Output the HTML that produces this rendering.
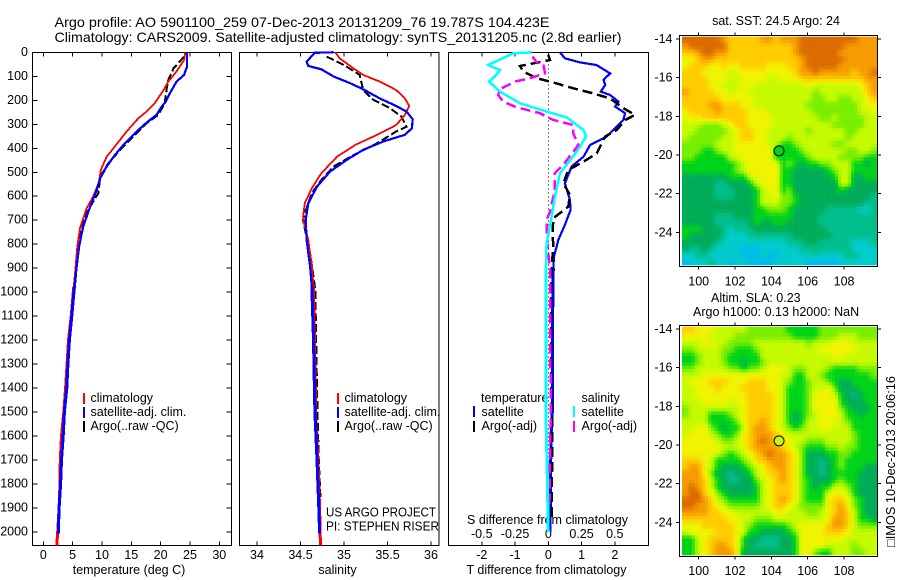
<!DOCTYPE html>
<html lang="en">
<head>
<meta charset="utf-8">
<title>Argo profile</title>
<style>
html,body{margin:0;padding:0;background:#fff;width:900px;height:580px;overflow:hidden}
svg{display:block}
text{font-family:"Liberation Sans",sans-serif;font-size:12.5px;fill:#000}
</style>
</head>
<body>
<svg id="chart" xmlns="http://www.w3.org/2000/svg" width="900" height="580" viewBox="0 0 900 580">
<text x="54.5" y="27" style="font-size:14px" textLength="495" lengthAdjust="spacingAndGlyphs">Argo profile: AO 5901100_259 07-Dec-2013 20131209_76 19.787S 104.423E</text>
<text x="54.5" y="42" style="font-size:14px" textLength="567" lengthAdjust="spacingAndGlyphs">Climatology: CARS2009. Satellite-adjusted climatology: synTS_20131205.nc (2.8d earlier)</text>
<text x="129" y="574" text-anchor="middle">temperature (deg C)</text>
<text x="337.5" y="574" text-anchor="middle">salinity</text>
<text x="546.5" y="574" text-anchor="middle">T difference from climatology</text>
<text x="547.5" y="524" text-anchor="middle">S difference from climatology</text>
<text x="90.5" y="402">climatology</text>
<text x="90.5" y="416">satellite-adj. clim.</text>
<text x="90.5" y="430">Argo(..raw -QC)</text>
<text x="344.5" y="402">climatology</text>
<text x="344.5" y="416">satellite-adj. clim.</text>
<text x="344.5" y="430">Argo(..raw -QC)</text>
<text x="326" y="516.5" textLength="110" lengthAdjust="spacingAndGlyphs">US ARGO PROJECT</text>
<text x="326" y="530.5" textLength="113" lengthAdjust="spacingAndGlyphs">PI: STEPHEN RISER</text>
<text x="481" y="402">temperature</text>
<text x="481.5" y="416">satellite</text>
<text x="481.5" y="430">Argo(-adj)</text>
<text x="581.5" y="402">salinity</text>
<text x="581.5" y="416">satellite</text>
<text x="581.5" y="430">Argo(-adj)</text>
<text x="776" y="25" text-anchor="middle">sat. SST: 24.5 Argo: 24</text>
<text x="711" y="302">Altim. SLA: 0.23</text>
<text x="693" y="316">Argo h1000: 0.13 h2000: NaN</text>
<text transform="translate(895,547) rotate(-90)" textLength="171" lengthAdjust="spacingAndGlyphs">&#9633;IMOS 10-Dec-2013 20:06:16</text>
</svg>
<script>
// ---------- profile data ----------
const tempClimDepth = [0,32,80,122,157,212,247,275,330,386,435,490,540,601,650,733,810,893,976,1100,1200,1300,1400,1500,1600,1700,1800,1900,2000,2055];
const tempClimValue = [24.2,24.0,22.7,21.3,20.5,19.0,17.6,16.2,14.2,12.4,10.8,9.8,9.5,8.5,7.4,6.25,5.8,5.5,5.2,4.75,4.3,4.05,3.8,3.5,3.1,2.9,2.85,2.7,2.45,2.3];
const tempSatDepth = [0,60,94,122,170,205,226,261,293,330,379,428,476,525,574,643,726,810,893,976,1100,1200,1300,1400,1500,1600,1700,1800,1900,2005];
const tempSatValue = [24.5,24.5,24.0,22.7,21.6,20.9,20.2,19.3,17.6,15.9,13.9,12.2,10.8,9.7,9.1,8.0,6.8,6.1,5.7,5.3,4.85,4.45,4.2,4.0,3.6,3.4,3.1,2.95,2.7,2.55];
const tempArgoDepth = [18,67,115,157,212,261,296,351,407,462,518,587,643,699,782,865,976,1100,1300,1500,1750];
const tempArgoValue = [24.0,22.2,21.3,21.0,20.7,19.6,17.6,15.3,13.1,11.1,9.7,9.4,8.0,6.8,6.25,5.8,5.4,4.8,4.1,3.5,3.1];

const salClimDepth = [0,25,67,94,122,157,192,224,261,303,344,386,435,504,567,629,685,726,782,893,976,1200,1400,1500,1700,1900,2000,2055];
const salClimValue = [34.9,34.95,35.11,35.22,35.41,35.6,35.70,35.75,35.70,35.6,35.38,35.13,34.92,34.74,34.63,34.55,34.53,34.55,34.59,34.63,34.65,34.66,34.67,34.67,34.70,34.72,34.725,34.73];
const salSatDepth = [0,2,8,39,57,71,101,129,154,192,224,247,279,317,344,372,407,449,497,560,629,699,782,893,976,1200,1400,1500,1700,1900,2005];
const salSatValue = [34.88,34.66,34.65,34.57,34.59,34.74,34.88,35.07,35.22,35.41,35.6,35.72,35.79,35.78,35.70,35.45,35.22,35.03,34.84,34.69,34.59,34.56,34.57,34.61,34.63,34.65,34.66,34.665,34.69,34.71,34.72];
const salArgoDepth = [18,53,94,157,199,233,268,310,330,379,428,476,532,587,671,699,754,838,935,990,1200,1400,1500,1700,1860];
const salArgoValue = [34.80,35.0,35.18,35.22,35.34,35.53,35.66,35.72,35.6,35.38,35.11,34.88,34.74,34.63,34.55,34.53,34.56,34.61,34.65,34.67,34.68,34.69,34.695,34.71,34.73];

const dtSatDepth = [0,25,42,53,88,115,136,164,178,206,226,254,282,317,351,386,435,476,546,615,657,719,782,851,900,1200,1500,1600,2000];
const dtSatValue = [0.35,0.5,0.95,1.45,1.86,1.66,1.71,1.58,1.86,2.11,2.01,2.31,2.26,2.01,1.76,1.26,1.06,0.70,0.50,0.65,0.67,0.50,0.30,0.17,0.15,0.12,0.12,0.08,0.05];
const dtArgoDepth = [11,32,39,57,81,108,126,150,168,192,233,261,282,324,351,421,456,490,546,594,643,692,754,810,900,1300,1600,1950];
const dtArgoValue = [0,0.05,-0.2,-0.85,-0.75,-0.35,0.15,0.75,1.26,1.86,2.26,2.61,2.31,2.06,1.71,1.46,1.06,0.6,0.45,0.65,0.6,0.15,0.13,0.15,0.1,0.08,0.12,0.1];
const dsSatDepth = [0,4,53,74,101,122,164,212,247,271,324,349,393,442,504,601,685,796,900,1500,1750,2000];
const dsSatValue = [-0.126,-0.264,-0.452,-0.364,-0.402,-0.445,-0.364,-0.214,-0.013,0.138,0.264,0.284,0.239,0.176,0.088,0.05,0.025,-0.013,-0.018,-0.018,-0.008,0];
const dsArgoDepth = [18,42,46,88,108,122,154,178,206,229,254,282,303,338,386,469,504,574,664,699,796,900,1500,1900];
const dsArgoValue = [-0.118,-0.088,-0.038,-0.025,-0.138,-0.251,-0.364,-0.377,-0.339,-0.239,-0.063,0.038,0.188,0.188,0.226,0.113,0.05,0.05,0.013,-0.013,-0.008,0.013,0.018,0.008];

// ---------- tick labels ----------
const depthTicks = [0,100,200,300,400,500,600,700,800,900,1000,1100,1200,1300,1400,1500,1600,1700,1800,1900,2000];
const tempTicks = [0,5,10,15,20,25,30];
const salTicks = [34,34.5,35,35.5,36];
const tDiffTicks = [-2,-1,0,1,2];
const sDiffTicks = [-0.5,-0.25,0,0.25,0.5];
const lonTicks = [100,102,104,106,108];
const latTicks = [-14,-16,-18,-20,-22,-24];

// ---------- argo position ----------
const argoLon = 104.423;
const argoLat = -19.787;
const argoSstLevel = 4;
const argoSlaLevel = 6;

// ---------- map grids (colour level per cell, north to south) ----------
const sstGrid = [
[10,10,10,10,10,10,9,8,8,8,8,8,9,9,8,9,9,9,10,10,10,10,10,10,10,10,10,9,9,9],
[9,10,10,10,10,10,10,8,8,8,8,8,8,8,8,8,8,9,10,10,10,10,10,10,10,9,9,9,9,9],
[8,8,9,10,10,9,9,8,8,8,8,8,8,8,8,8,8,9,10,10,10,10,10,10,9,9,9,9,9,9],
[7,7,8,9,9,8,8,8,8,8,8,8,8,8,8,8,8,8,9,10,10,10,10,10,10,9,9,9,9,9],
[7,8,8,8,7,7,8,7,7,8,8,8,8,7,7,7,8,8,9,10,10,10,10,10,9,9,9,9,9,9],
[8,8,8,7,7,7,7,6,7,7,7,7,7,7,7,7,7,8,9,9,10,9,9,9,9,9,8,9,9,10],
[8,8,8,8,7,7,7,6,6,7,7,7,7,6,6,7,7,7,8,8,8,8,8,8,8,8,8,8,9,9],
[8,8,8,8,7,7,6,6,6,7,7,6,6,6,6,6,6,6,6,7,6,6,6,6,6,6,6,7,8,9],
[9,8,8,8,8,7,7,6,7,7,6,6,6,6,6,6,6,6,6,6,5,6,6,6,6,6,6,6,8,9],
[8,8,8,8,8,8,7,7,7,7,7,6,6,6,6,6,6,6,6,6,5,5,6,6,5,5,6,6,7,8],
[8,8,8,8,9,9,8,8,8,7,7,6,6,6,6,6,6,6,6,5,5,5,5,5,5,5,5,6,7,7],
[7,8,8,8,8,9,8,8,8,8,7,7,7,6,6,6,6,6,6,6,5,5,5,5,5,5,5,6,6,7],
[7,7,7,8,8,8,8,8,8,8,7,7,7,7,6,6,6,6,6,6,6,5,5,6,5,5,5,5,6,6],
[6,6,6,5,5,5,6,7,8,8,7,7,7,7,6,6,6,6,6,6,6,6,6,5,5,5,5,5,6,6],
[6,6,5,5,5,5,5,6,7,8,8,7,7,6,6,6,6,6,6,5,6,6,6,6,6,5,5,6,6,6],
[6,5,5,5,5,5,6,6,7,8,8,7,7,6,6,6,5,6,6,6,6,6,6,6,6,5,6,6,6,6],
[5,5,5,5,5,6,6,6,7,7,7,7,7,6,6,4,4,5,6,6,6,6,6,5,5,6,6,6,6,6],
[5,5,5,4,4,5,6,6,7,7,7,7,7,7,4,4,4,4,5,6,6,6,6,6,6,5,5,6,6,5],
[5,5,4,4,4,4,4,6,6,7,7,7,7,7,4,4,4,4,4,5,6,6,6,6,5,5,5,5,4,4],
[4,4,4,4,4,4,4,4,5,6,7,7,7,7,7,4,5,4,3,4,4,5,5,6,6,6,4,4,3,4],
[4,4,4,4,4,4,4,4,5,6,7,7,7,7,7,4,4,3,3,3,3,3,4,5,6,6,4,4,4,4],
[3,3,3,3,3,3,3,4,4,4,6,7,7,7,7,4,4,3,3,3,3,3,3,4,6,6,3,3,4,4],
[3,3,3,3,3,2,2,3,3,3,4,6,7,7,7,4,4,3,3,3,3,3,3,3,6,6,3,3,3,3],
[3,3,3,3,3,2,2,2,3,3,3,4,6,7,7,4,5,3,3,3,3,3,3,3,4,3,3,3,3,3],
[3,3,3,3,3,2,2,2,3,3,3,4,6,6,7,5,5,4,3,3,3,3,3,3,3,3,3,3,3,2],
[3,3,3,3,3,3,3,3,3,3,3,4,6,6,6,5,5,4,3,3,3,3,3,3,3,3,3,3,2,2],
[3,3,3,3,3,3,3,3,3,3,3,4,4,5,5,5,4,3,3,3,3,3,2,2,2,2,2,1,1,2],
[3,3,3,3,3,2,2,2,3,3,3,4,4,4,4,4,4,3,3,3,3,2,2,2,2,2,2,2,2,2],
[3,3,3,3,3,2,2,2,2,2,3,4,3,3,4,4,3,3,3,3,3,2,2,2,2,2,2,2,2,2],
[4,4,4,3,3,3,2,1,2,2,2,3,3,3,3,3,3,3,3,3,3,3,2,2,2,2,2,2,2,2],
[4,3,3,3,3,3,2,1,1,1,2,2,2,2,2,2,2,3,3,3,3,3,3,2,2,2,2,2,2,2],
[3,3,3,3,3,2,1,1,1,1,1,1,1,1,1,1,2,2,2,3,3,2,2,2,2,2,1,1,1,2],
[3,2,2,3,2,1,1,1,1,0,0,0,1,1,1,1,1,1,2,2,2,2,2,2,2,2,1,1,1,1],
[1,1,2,2,1,1,1,1,1,0,0,0,1,0,0,1,1,1,1,1,2,1,1,1,1,2,2,1,1,1],
[0,1,1,1,2,1,1,0,1,1,0,0,0,0,1,1,1,1,1,0,0,0,0,0,1,1,1,1,1,1]
];
const slaGrid = [
[8,8,7,7,7,6,6,6,6,6,5,5,5,5,5,5,4,4,4,4,4,5,5,5,5,5,5,5,5,5],
[7,7,7,7,6,6,6,6,5,5,5,5,5,5,5,5,5,4,4,4,4,5,5,5,6,6,6,5,5,5],
[6,6,6,7,7,6,6,5,5,5,5,6,6,6,6,6,6,6,6,5,6,6,6,7,7,7,6,6,6,6],
[5,5,6,6,6,6,5,5,4,4,4,5,6,6,6,6,6,6,6,6,6,7,7,7,7,7,7,6,6,6],
[4,4,5,6,6,6,5,4,4,4,4,4,6,6,6,6,6,6,6,6,6,6,6,7,7,6,6,6,6,6],
[4,4,5,6,6,6,5,4,4,3,4,4,5,6,6,6,6,6,6,6,6,6,6,6,6,6,6,6,6,6],
[5,5,6,6,6,6,6,5,5,4,5,5,6,7,7,7,6,5,5,6,6,6,5,4,4,4,4,5,5,5],
[6,6,6,7,7,7,7,7,7,7,7,7,7,7,7,6,6,4,4,6,6,5,4,4,4,4,4,4,4,5],
[6,7,7,7,8,8,8,7,7,7,8,8,8,7,7,6,5,4,4,5,6,6,5,4,3,3,4,4,4,4],
[6,6,7,7,7,8,7,7,7,8,8,8,8,7,7,6,4,4,4,5,6,6,7,5,3,3,3,4,4,4],
[6,6,7,7,7,7,7,7,7,7,8,8,8,8,7,6,4,4,4,5,7,7,7,6,4,3,2,3,4,4],
[6,6,6,7,7,7,7,6,7,7,8,8,8,8,7,6,4,4,4,5,7,7,7,7,4,3,3,3,4,4],
[5,6,6,6,6,6,6,6,6,7,8,8,8,8,7,6,4,4,4,5,7,7,7,7,5,4,3,3,3,4],
[5,6,6,6,4,4,4,5,6,7,8,8,8,8,7,6,4,3,4,5,6,7,7,7,6,4,4,3,4,4],
[6,6,6,6,4,4,4,4,5,7,8,8,9,8,7,6,4,3,4,6,6,7,7,7,6,5,4,4,4,4],
[6,6,7,7,5,4,3,4,4,6,8,9,9,8,7,6,5,4,5,6,6,7,7,6,6,6,4,4,4,4],
[6,7,7,7,6,5,4,4,5,7,8,9,9,9,8,7,6,6,6,6,6,6,6,6,6,6,5,4,4,4],
[7,7,7,7,7,6,5,5,6,7,8,9,10,9,8,7,7,6,6,5,5,5,6,6,6,6,5,4,4,4],
[7,7,7,7,7,7,6,6,6,7,8,9,9,9,9,8,7,6,5,4,4,4,5,5,6,5,5,4,4,4],
[7,7,7,7,7,6,5,4,5,6,7,8,9,10,9,9,8,7,5,3,3,3,4,4,5,5,4,4,4,4],
[8,8,8,7,6,4,4,4,4,5,6,8,8,9,9,9,8,7,5,3,3,2,3,4,5,4,4,4,4,4],
[8,9,9,7,6,4,3,3,3,4,5,6,7,8,9,9,8,7,5,3,3,2,3,4,5,4,4,4,3,3],
[9,9,9,7,5,3,3,2,3,3,4,6,7,8,8,9,8,7,5,3,3,2,3,4,4,4,4,3,3,3],
[9,9,9,8,6,4,3,2,2,3,3,5,6,7,8,9,8,7,5,4,3,3,3,4,5,4,4,3,3,3],
[9,10,9,8,6,4,3,3,3,3,3,4,6,7,8,8,8,7,5,4,3,4,4,6,6,5,4,3,3,3],
[9,10,10,8,7,5,4,3,3,3,3,4,6,7,8,8,8,7,5,4,4,4,6,7,7,6,4,3,3,3],
[10,10,10,9,8,6,5,4,4,4,4,4,6,7,8,9,8,7,5,4,4,4,7,8,8,7,5,4,3,3],
[10,10,9,9,8,7,6,5,5,5,5,5,6,7,8,8,7,6,5,5,5,5,7,8,9,7,5,4,3,3],
[9,9,9,9,8,8,7,7,6,6,6,6,6,6,7,7,6,6,6,5,5,6,7,8,9,8,6,4,3,3],
[8,8,8,8,8,8,8,7,7,6,6,5,5,5,6,6,6,6,6,6,6,6,7,9,9,8,6,4,4,3],
[7,7,7,8,8,8,8,8,7,6,5,4,4,4,4,4,5,6,7,7,7,7,8,9,9,8,6,5,5,5],
[6,7,7,7,7,8,8,8,7,6,4,4,3,3,3,3,4,5,7,7,7,7,8,8,8,7,6,6,6,6],
[4,4,6,7,8,8,8,8,7,4,3,3,2,2,2,3,3,4,7,7,7,7,7,7,7,6,6,6,6,6],
[4,4,6,7,8,9,9,8,7,4,3,2,2,2,2,3,3,4,7,7,7,7,6,6,6,6,5,6,6,6],
[4,4,6,7,8,9,9,9,7,3,3,3,3,3,3,3,3,4,7,7,5,4,4,6,6,6,5,5,6,6]
];
const levelColors = [[0,188,232],[0,204,204],[0,190,140],[0,172,88],[0,212,24],[120,238,0],[198,250,0],[240,244,0],[255,204,0],[246,156,0],[220,108,0]];

// ---------- scales ----------
const NS = 'http://www.w3.org/2000/svg';
const svg = document.getElementById('chart');
const depthY = d => 52.3 + d * 0.2399;
const tempX = t => 43.3 + t * 5.867;
const salX = s => 257 + (s - 34) * 87;
const dtX = t => 548.3 + t * 33.25;
const dsX = s => 548.3 + s * 133;
const lonX = lon => 698.7 + (lon - 100) * 18.17;
const mapLatY = (lat, y14) => y14 + (-14 - lat) * 19.33;
const gridLon0 = 99.08, gridDLon = 0.358, gridLat0 = -13.88, gridDLat = 0.3375;
const subCells = 2;
const deepStart = 900;

function levelColor(v) {
  const i = Math.max(0, Math.min(levelColors.length - 2, Math.floor(v)));
  const f = Math.max(0, Math.min(1, v - i));
  const a = levelColors[i], b = levelColors[i + 1];
  return 'rgb(' + a.map((ch, k) => Math.round(ch + (b[k] - ch) * f)).join(',') + ')';
}
function sampleGrid(grid, r, c) {
  const rows = grid.length, cols = grid[0].length;
  const rc = Math.max(0, Math.min(rows - 1, r));
  const cc = Math.max(0, Math.min(cols - 1, c));
  const r0 = Math.floor(rc), c0 = Math.floor(cc);
  const r1 = Math.min(rows - 1, r0 + 1), c1 = Math.min(cols - 1, c0 + 1);
  const fr = rc - r0, fc = cc - c0;
  return (grid[r0][c0] * (1 - fc) + grid[r0][c1] * fc) * (1 - fr) + (grid[r1][c0] * (1 - fc) + grid[r1][c1] * fc) * fr;
}
function shape(tag, attrs) {
  const el = document.createElementNS(NS, tag);
  for (const k in attrs) el.setAttribute(k, attrs[k]);
  svg.appendChild(el);
  return el;
}
function series(name, xs, ys, xf, color, width, dash) {
  const pts = xs.map((x, i) => xf(x).toFixed(1) + ',' + depthY(ys[i]).toFixed(1)).join(' ');
  const attrs = {points: pts, fill: 'none', stroke: color, 'stroke-width': width, 'shape-rendering': 'crispEdges'};
  if (dash) attrs['stroke-dasharray'] = dash;
  const el = shape('polyline', attrs);
  
  
  if (!dash) {
    // near-vertical deep section reads about 3px wide in the reference
    const deepPts = xs.map((x, i) => [x, ys[i]]).filter(p => p[1] >= deepStart)
      .map(p => xf(p[0]).toFixed(1) + ',' + depthY(p[1]).toFixed(1)).join(' ');
    const deep = shape('polyline', {points: deepPts, fill: 'none', stroke: color, 'stroke-width': 3, 'shape-rendering': 'crispEdges'});
    
    
  }
}
function label(name, x, y, str, anchor) {
  const el = shape('text', {x: x, y: y, 'text-anchor': anchor});
  el.textContent = str;
  
  
}
function tick(name, x1, y1, x2, y2) {
  const el = shape('line', {x1: x1, y1: y1, x2: x2, y2: y2, stroke: '#000', 'stroke-width': 1, 'shape-rendering': 'crispEdges'});
  
  
}
function frame(name, x, y, w, h) {
  const el = shape('rect', {x: x, y: y, width: w, height: h, fill: 'none', stroke: '#000', 'stroke-width': 1.2, 'shape-rendering': 'crispEdges'});
  
  
}
function swatch(name, x, y, color) {
  const el = shape('rect', {x: x, y: y, width: 2, height: 11, fill: color});
  
  
}

const PT = 52.5, PB = 545.5;

// ---------- panel 1: temperature ----------
frame('temperature-panel-frame', 32.5, PT, 199, PB - PT);
depthTicks.forEach(d => {
  tick('depth-tick-left', 32.5, depthY(d), 37.5, depthY(d));
  tick('depth-tick-right', 226.5, depthY(d), 231.5, depthY(d));
  label('depth-tick-label', 28, depthY(d) + 3.5, String(d), 'end');
});
tempTicks.forEach(t => {
  tick('temperature-tick-top', tempX(t), PT, tempX(t), PT + 4);
  tick('temperature-tick-bottom', tempX(t), PB - 4, tempX(t), PB);
  label('temperature-tick-label', tempX(t), 559, String(t), 'middle');
});
series('temperature-argo-line', tempArgoValue, tempArgoDepth, tempX, '#000', 2, '8 3');
series('temperature-climatology-line', tempClimValue, tempClimDepth, tempX, '#f00', 1.8);
series('temperature-satellite-line', tempSatValue, tempSatDepth, tempX, '#00f', 2.2);
swatch('legend-swatch-climatology-t', 83, 393, '#f00');
swatch('legend-swatch-satellite-t', 83, 407, '#00f');
swatch('legend-swatch-argo-t', 83, 421, '#000');

// ---------- panel 2: salinity ----------
frame('salinity-panel-frame', 239.5, PT, 199.5, PB - PT);
salTicks.forEach(s => {
  tick('salinity-tick-top', salX(s), PT, salX(s), PT + 4);
  tick('salinity-tick-bottom', salX(s), PB - 4, salX(s), PB);
  label('salinity-tick-label', salX(s), 559, String(s), 'middle');
});
series('salinity-argo-line', salArgoValue, salArgoDepth, salX, '#000', 2, '8 3');
series('salinity-climatology-line', salClimValue, salClimDepth, salX, '#f00', 1.8);
series('salinity-satellite-line', salSatValue, salSatDepth, salX, '#00f', 2.2);
swatch('legend-swatch-climatology-s', 337, 393, '#f00');
swatch('legend-swatch-satellite-s', 337, 407, '#00f');
swatch('legend-swatch-argo-s', 337, 421, '#000');

// ---------- panel 3: differences ----------
frame('difference-panel-frame', 448.5, PT, 200, PB - PT);
tDiffTicks.forEach(t => {
  tick('t-difference-tick-top', dtX(t), PT, dtX(t), PT + 4);
  tick('t-difference-tick-bottom', dtX(t), PB - 4, dtX(t), PB);
  label('t-difference-tick-label', dtX(t), 559, String(t), 'middle');
});
sDiffTicks.forEach(s => {
  label('s-difference-tick-label', dsX(s), 538, String(s), 'middle');
});
const zeroLine = shape('line', {x1: dtX(0), y1: PT, x2: dtX(0), y2: 532, stroke: '#000', 'stroke-width': 1, 'stroke-dasharray': '1 3', 'shape-rendering': 'crispEdges'});


series('t-difference-satellite-line', dtSatValue, dtSatDepth, dtX, '#00f', 2.2);
series('t-difference-argo-line', dtArgoValue, dtArgoDepth, dtX, '#000', 2.5, '10 5');
series('s-difference-argo-line', dsArgoValue, dsArgoDepth, dsX, '#f0f', 2.5, '10 5');
series('s-difference-satellite-line', dsSatValue, dsSatDepth, dsX, '#0ff', 2.5);
swatch('legend-swatch-satellite-dt', 473, 406, '#00f');
swatch('legend-swatch-argo-dt', 473, 421, '#000');
swatch('legend-swatch-satellite-ds', 573, 406, '#0ff');
swatch('legend-swatch-argo-ds', 573, 421, '#f0f');

// ---------- maps ----------
function drawMap(prefix, grid, y14, top, height, bottomLabelOffset, argoLevel) {
  const rows = grid.length * subCells, cols = grid[0].length * subCells;
  const dLon = gridDLon / subCells, dLat = gridDLat / subCells;
  for (let r = 0; r < rows; r++) {
    for (let c = 0; c < cols; c++) {
      const level = sampleGrid(grid, (r + 0.5) / subCells - 0.5, (c + 0.5) / subCells - 0.5);
      const lon = gridLon0 + c * dLon;
      const lat = gridLat0 - r * dLat;
      const x0 = lonX(lon), x1 = lonX(lon + dLon);
      const y0 = mapLatY(lat, y14), y1 = mapLatY(lat - dLat, y14);
      const cell = shape('rect', {x: x0.toFixed(2), y: y0.toFixed(2), width: (x1 - x0 + 0.3).toFixed(2), height: (y1 - y0 + 0.3).toFixed(2), fill: levelColor(level)});
      
      
    }
  }
  frame(prefix + '-map-frame', 679.5, top, 198, height);
  lonTicks.forEach(lon => {
    tick('longitude-tick', lonX(lon), top - 3, lonX(lon), top);
    tick('longitude-tick', lonX(lon), top + height, lonX(lon), top + height + 3);
    label('longitude-tick-label', lonX(lon), top + height + bottomLabelOffset, String(lon), 'middle');
  });
  latTicks.forEach(lat => {
    const y = mapLatY(lat, y14);
    tick('latitude-tick', 676, y, 679.5, y);
    tick('latitude-tick', 877.5, y, 881, y);
    label('latitude-tick-label', 672.5, y + 4, '-' + Math.abs(lat), 'end');
  });
  const marker = shape('circle', {cx: lonX(argoLon), cy: mapLatY(argoLat, y14), r: 5, fill: levelColor(argoLevel), stroke: '#000', 'stroke-width': 1});
  
  
}
drawMap('sst', sstGrid, 39, 35.5, 231, 19, argoSstLevel);
drawMap('sla', slaGrid, 329, 325.5, 231, 18.5, argoSlaLevel);
</script>
</body>
</html>
